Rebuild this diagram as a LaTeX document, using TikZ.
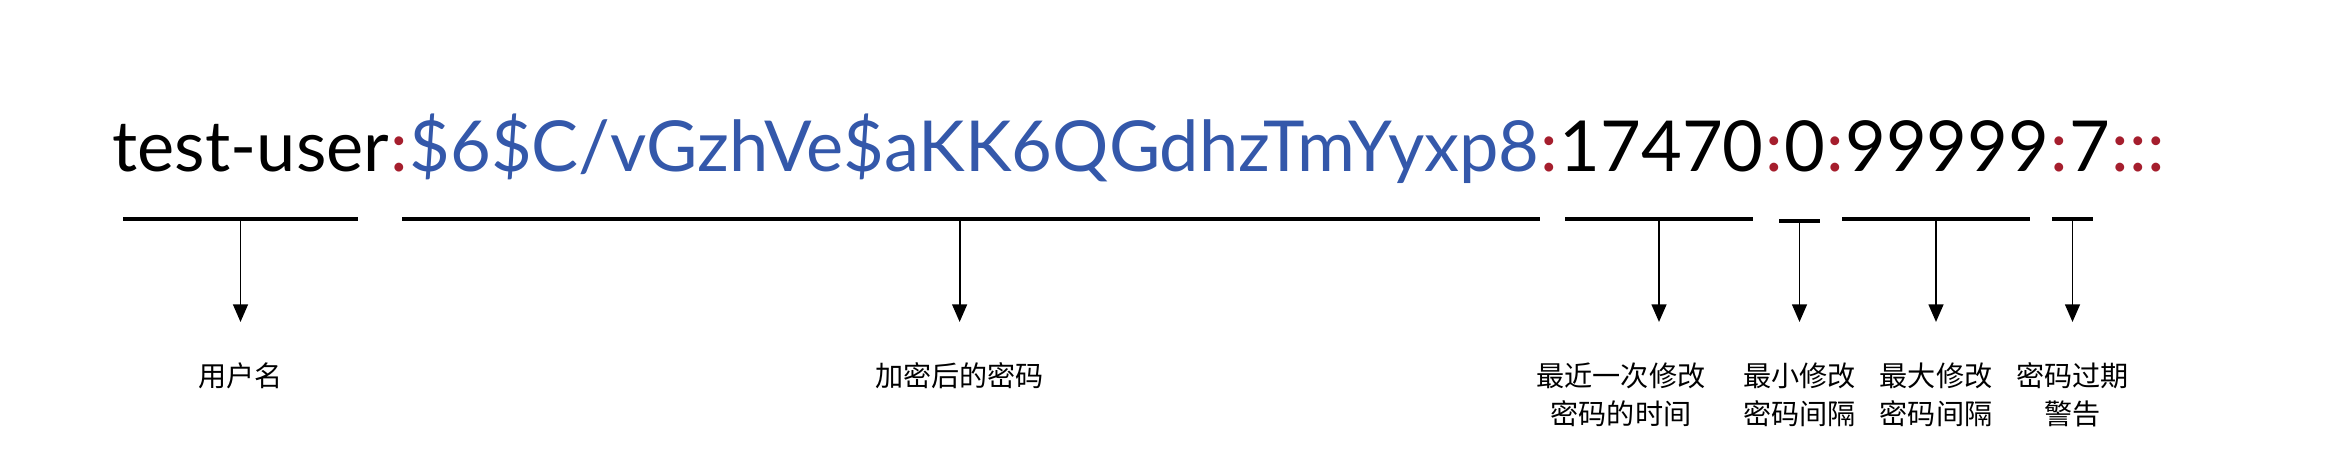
\documentclass[tikz,border=0pt]{standalone}
\usepackage{fontspec}
\setmainfont{Lato}
\newfontfamily\cjk{Noto Sans CJK SC}
\usetikzlibrary{arrows.meta,positioning}

\definecolor{hashblue}{RGB}{52,88,170}
\definecolor{sepred}{RGB}{165,30,45}

\tikzset{
  field/.style={inner sep=0pt, font=\fontsize{20}{24}\selectfont},
  sep/.style={field, text=sepred},
  ul/.style={line width=0.95pt},
  pointer/.style={-{Triangle[length=5pt,width=4.2pt]}, line width=0.55pt},
  lab/.style={font=\cjk\fontsize{8}{10.8}\selectfont, align=center, inner sep=0pt}
}

\begin{document}
\begin{tikzpicture}[x=0.01cm,y=0.01cm]
    \useasboundingbox (0,0) rectangle (2332,476);

    % the shadow line, field by field
    \node[field, anchor=base west] (user) at (112,304) {test-user};
    \node[sep, base right=0pt of user] (c1) {:};
    \node[field, text=hashblue, base right=0pt of c1] (hash) {\$6\$C/vGzhVe\$aKK6QGdhzTmYyxp8};
    \node[sep, base right=0pt of hash] (c2) {:};
    \node[field, base right=0pt of c2] (last) {17470};
    \node[sep, base right=0pt of last] (c3) {:};
    \node[field, base right=0pt of c3] (min) {0};
    \node[sep, base right=0pt of min] (c4) {:};
    \node[field, base right=0pt of c4] (max) {99999};
    \node[sep, base right=0pt of max] (c5) {:};
    \node[field, base right=0pt of c5] (warn) {7};
    \node[sep, base right=0pt of warn] (c6) {:::};

    % underlines
    \draw[ul] (123,257) -- coordinate (m-user) (358,257);
    \draw[ul] (402,257) -- coordinate[pos=0.49] (m-hash) (1540,257);
    \draw[ul] (1565,257) -- coordinate (m-last) (1753,257);
    \draw[ul] (1779,255) -- coordinate (m-min) (1820,255);
    \draw[ul] (1842,257) -- coordinate (m-max) (2030,257);
    \draw[ul] (2052,257) -- coordinate (m-warn) (2093,257);

    \foreach \f in {user,hash,last,min,max,warn}
        \draw[pointer] (m-\f) -- (m-\f |- 0,154) coordinate (t-\f);

    % labels
    \node[lab, below=0.4cm of t-user] (l-user) {用户名};
    \node[lab, below=0.4cm of t-hash] (l-hash) {加密后的密码};
    \node[lab, below=0.4cm of t-last, xshift=-0.38cm] (l-last) {最近一次修改\\密码的时间};
    \node[lab, below=0.4cm of t-min] (l-min) {最小修改\\密码间隔};
    \node[lab, below=0.4cm of t-max] (l-max) {最大修改\\密码间隔};
    \node[lab, below=0.4cm of t-warn] (l-warn) {密码过期\\警告};
\end{tikzpicture}
\end{document}
